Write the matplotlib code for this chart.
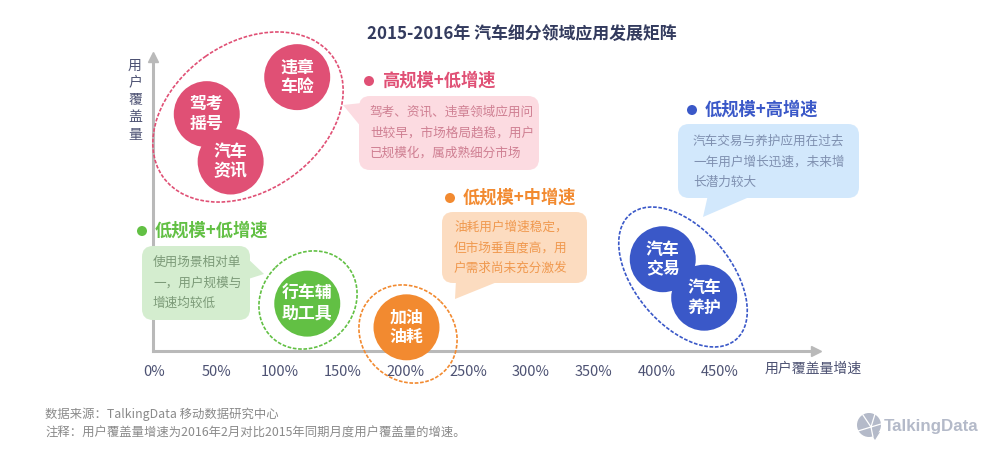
import matplotlib
matplotlib.use("Agg")
from matplotlib import pyplot as plt
from matplotlib.patches import Ellipse, FancyBboxPatch, Polygon, Circle
from matplotlib.transforms import Affine2D

plt.rcParams['font.family'] = ['Noto Sans CJK SC', 'DejaVu Sans']

# bubbles: growth in %, coverage on a 0-100 scale
names = ['违章\n车险', '驾考\n摇号', '汽车\n资讯', '行车辅\n助工具', '加油\n油耗', '汽车\n交易', '汽车\n养护']
growth = [114, 42, 61, 122, 201, 405, 438]
coverage = [92.5, 80, 64, 16, 8, 31, 18]
group = ['pink', 'pink', 'pink', 'green', 'orange', 'blue', 'blue']

ticks = [0, 50, 100, 150, 200, 250, 300, 350, 400, 450]
tick_labels = ['0%', '50%', '100%', '150%', '200%', '250%', '300%', '350%', '400%', '450%']

title = '2015-2016年 汽车细分领域应用发展矩阵'
x_name = '用户覆盖量增速'
y_name = '用\n户\n覆\n盖\n量'
source = '数据来源：TalkingData 移动数据研究中心'
note = '注释：用户覆盖量增速为2016年2月对比2015年同期月度用户覆盖量的增速。'

headings = {'pink': '高规模+低增速', 'green': '低规模+低增速', 'orange': '低规模+中增速', 'blue': '低规模+高增速'}
bodies = {
    'pink': ['驾考、资讯、违章领域应用问', '世较早，市场格局趋稳，用户', '已规模化，属成熟细分市场'],
    'green': ['使用场景相对单', '一，用户规模与', '增速均较低'],
    'orange': ['油耗用户增速稳定，', '但市场垂直度高，用', '户需求尚未充分激发'],
    'blue': ['汽车交易与养护应用在过去', '一年用户增长迅速，未来增', '长潜力较大'],
}

colors = {'pink': '#e05075', 'green': '#62c044', 'orange': '#f28a30', 'blue': '#3a58c8'}
box_colors = {'pink': '#fcdbe1', 'green': '#d4edcf', 'orange': '#fcdcc0', 'blue': '#d2e8fc'}
text_colors = {'pink': '#cf7f92', 'green': '#7c9a78', 'orange': '#f0994f', 'blue': '#7f90b0'}

W, H = 1000, 455
fig = plt.figure(figsize=(W / 100, H / 100), dpi=100)
ax = fig.add_axes([152.5 / W, (H - 351) / H, (816 - 152.5) / W, (351 - 57) / H])
ax.set_xlim(-1.2, 527)
ax.set_ylim(0, 99.3)

# pixel coords from the top left for the annotation stuff
px = Affine2D().scale(1, -1).translate(0, H)

for s in ['top', 'right']:
    ax.spines[s].set_visible(False)
for s in ['left', 'bottom']:
    ax.spines[s].set_color('#b9b9b9')
    ax.spines[s].set_linewidth(2.2)
ax.plot(1, 0, '>', color='#b9b9b9', ms=7, transform=ax.transAxes, clip_on=False)
ax.plot(0, 1, '^', color='#b9b9b9', ms=7, transform=ax.transAxes, clip_on=False)

ax.set_xticks(ticks)
ax.set_xticklabels(tick_labels, fontsize=10.5, color='#4d5273')
ax.tick_params(axis='x', length=0, pad=10)
ax.set_yticks([])

# dashed rings
rings = [((248, 117), 208, 148, -35, 'pink'),
         ((308, 300), 104, 92, -45, 'green'),
         ((408, 334), 104, 92, 45, 'orange'),
         ((683, 277), 164, 96, 50, 'blue')]
for c, w, h, ang, g in rings:
    ax.add_patch(Ellipse(c, w, h, angle=ang, fill=False, ec=colors[g], lw=1.2, ls=(0, (2.2, 1)),
                         transform=px, clip_on=False, zorder=3))

# bubbles
ax.scatter(growth, coverage, s=2257, c=[colors[g] for g in group], linewidths=0, clip_on=False, zorder=4)
for x, y, n in zip(growth, coverage, names):
    ax.text(x, y, n, color='white', fontsize=12.2, fontweight='bold', ha='center', va='center',
            linespacing=1.1, zorder=5, clip_on=False)

# callouts
boxes = {'pink': (359, 96, 180, 74), 'green': (142, 246, 108, 74),
         'orange': (442, 212, 145, 71), 'blue': (678, 124, 181, 74)}
tails = {'pink': [(362, 103), (343, 105), (362, 128)],
         'green': [(245, 256), (264, 274), (245, 280)],
         'orange': [(456, 280), (455, 299), (502, 280)],
         'blue': [(708, 195), (703, 217), (754, 195)]}
head_pos = {'pink': (369, 81), 'green': (142, 231), 'orange': (450, 198), 'blue': (692, 110)}
text_x = {'pink': 370, 'green': 153, 'orange': 454, 'blue': 693}
text_y = {'pink': 112, 'green': 262, 'orange': 227, 'blue': 141}

for g in boxes:
    x, y, w, h = boxes[g]
    ax.add_patch(FancyBboxPatch((x, y), w, h, boxstyle='round,pad=0,rounding_size=11', fc=box_colors[g],
                                ec='none', transform=px, clip_on=False, zorder=3))
    ax.add_patch(Polygon(tails[g], fc=box_colors[g], ec='none', transform=px, clip_on=False, zorder=3))
    hx, hy = head_pos[g]
    ax.add_patch(Circle((hx, hy), 5, fc=colors[g], ec='none', transform=px, clip_on=False, zorder=3))
    ax.text(hx + 13, hy, headings[g], color=colors[g], fontsize=12.4, fontweight='bold', ha='left', va='center',
            transform=px, clip_on=False, zorder=5)
    for i, line in enumerate(bodies[g]):
        ax.text(text_x[g], text_y[g] + i * 20.7, line, color=text_colors[g], fontsize=9.1, ha='left', va='center',
                transform=px, clip_on=False, zorder=5)

ax.text(522, 34, title, color='#333b5e', fontsize=12.2, fontweight='bold', ha='center', va='center', transform=px)
ax.text(813, 369, x_name, color='#4d5273', fontsize=10, ha='center', va='center', transform=px)
ax.text(135, 100, y_name, color='#4d5273', fontsize=10, ha='center', va='center', linespacing=1.3,
        transform=px)
ax.text(45, 414, source, color='#8a8a8a', fontsize=8.9, ha='left', va='center', transform=px)
ax.text(45, 433, note, color='#8a8a8a', fontsize=8.9, ha='left', va='center', transform=px)

# logo
logo = '#b4bac9'
ax.add_patch(Circle((869, 425), 12, fc=logo, ec='none', transform=px, clip_on=False))
ax.add_patch(Polygon([(871, 434), (880, 432), (875, 440)], fc=logo, ec='none', transform=px, clip_on=False))
for a, b in [((863, 415), (871, 427)), ((871, 427), (875, 414)), ((871, 427), (881, 424)),
             ((871, 427), (858, 431)), ((871, 427), (873, 437))]:
    ax.plot([a[0], b[0]], [a[1], b[1]], color='white', lw=0.9, transform=px, clip_on=False, zorder=3)
ax.text(884, 426, 'TalkingData', color=logo, fontsize=12.2, fontweight='bold', family='Liberation Sans',
        ha='left', va='center', transform=px)

fig.savefig('out.png', dpi=100, facecolor='white')
